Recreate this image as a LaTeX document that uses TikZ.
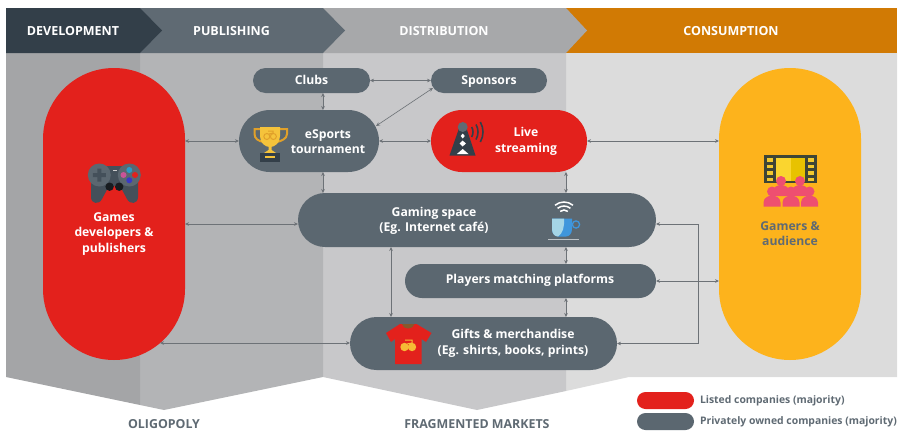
\documentclass[tikz,border=0pt]{standalone}
\usepackage{fontspec}
\setmainfont{Open Sans}
\usetikzlibrary{positioning,arrows.meta,calc}
\definecolor{devdark}{HTML}{333F49}
\definecolor{pubgray}{HTML}{5F6A73}
\definecolor{distgray}{HTML}{A7A8AA}
\definecolor{conorange}{HTML}{D17A04}
\definecolor{colone}{HTML}{A4A5A7}
\definecolor{coltwo}{HTML}{B3B4B6}
\definecolor{colthree}{HTML}{C8C8CA}
\definecolor{colfour}{HTML}{DCDCDC}
\definecolor{pillgray}{HTML}{5B6770}
\definecolor{pillred}{HTML}{E3211C}
\definecolor{pillyellow}{HTML}{FDB31C}
\definecolor{linkgray}{HTML}{6D7277}
\definecolor{gold}{HTML}{F5C33B}
\definecolor{darkgold}{HTML}{E0A02A}
\definecolor{viewerpink}{HTML}{EE4F70}
\definecolor{padbody}{HTML}{44505A}
\definecolor{filmframe}{HTML}{3E4536}
\definecolor{filmhole}{HTML}{F2C92E}
\definecolor{filmlight}{HTML}{FAD52F}
\definecolor{filmshade}{HTML}{E8C200}
\definecolor{cupblue}{HTML}{3F96DC}
\definecolor{cuplight}{HTML}{A5D5E6}
\begin{document}
\begin{tikzpicture}[x=1pt,y=-1pt,>={Stealth[length=4pt,width=3.6pt]},
  inner sep=0pt,outer sep=0pt,
  pill/.style 2 args={rectangle,minimum width=#1,minimum height=#2,rounded corners=#2/2},
  tallpill/.style={rectangle,minimum width=142pt,minimum height=292pt,rounded corners=71pt},
  headtext/.style={font=\bfseries\fontsize{12.5}{12.5}\selectfont,text=white},
  pilltext/.style={font=\bfseries\fontsize{12.2}{15.5}\selectfont,text=white,align=center},
  singleline/.style={text height=10pt,text depth=2.5pt},
  marktext/.style={font=\bfseries\fontsize{12.4}{12.4}\selectfont,text=pubgray},
  keytext/.style={font=\bfseries\fontsize{10.4}{10.4}\selectfont,text=pubgray,anchor=west},
  link/.style={<->,linkgray,line width=0.6pt},
  viewer/.pic={
    \fill[viewerpink] (-8.5,0) -- (-8.5,-4) .. controls (-8.5,-9) and (-3,-11) .. (0,-11)
      .. controls (3,-11) and (8.5,-9) .. (8.5,-4) -- (8.5,0) -- cycle;
    \fill[viewerpink] (0,-15) circle[radius=5];
  }]
\useasboundingbox (0,0) rectangle (904,439);
\fill[colfour] (566,53) -- (897,53) -- (897,377) -- (629,377) -- (566,391) -- cycle;
\fill[colthree] (323,53) -- (566,53) -- (566,391) -- (477,410) -- (323,377) -- cycle;
\fill[coltwo] (140,53) -- (323,53) -- (323,377) -- (164,410) -- (140,405) -- cycle;
\fill[colone] (6,53) -- (140,53) -- (140,405) -- (6,377) -- cycle;
\fill[conorange] (566,8) -- (897,8) -- (897,53) -- (566,53) -- cycle;
\fill[distgray] (323,8) -- (566,8) -- (587,30.5) -- (566,53) -- (323,53) -- cycle;
\fill[pubgray] (140,8) -- (323,8) -- (345,30.5) -- (323,53) -- (140,53) -- cycle;
\fill[devdark] (6,8) -- (140,8) -- (162,30.5) -- (140,53) -- (6,53) -- cycle;
\node[headtext] (development) at (73,31) {DEVELOPMENT};
\node[headtext] (publishing) at (231.5,31) {PUBLISHING};
\node[headtext] (distribution) at (444,31) {DISTRIBUTION};
\node[headtext] (consumption) at (731,31) {CONSUMPTION};
\coordinate (pubdist) at (323,53);
\coordinate (distcon) at (566,53);
\coordinate (gamelevel) at (0,224);
\coordinate (giftlink) at (391,247);
\coordinate (redlow) at (160,343);
\coordinate (bracket) at (698,280);
\coordinate (esportscorner) at (376,126);
\coordinate (sponsorscorner) at (433,88);
\node[tallpill,fill=pillred] (games) at (114,214) {};
\node[tallpill,fill=pillyellow] (gamers) at (790,214) {};
\node[pill={117pt}{25pt},fill=pillgray,pilltext,singleline] (clubs) at (311.5,80.5) {Clubs};
\node[pill={116pt}{25pt},fill=pillgray,pilltext,singleline] (sponsors) at (489,80.5) {Sponsors};
\node[pill={140pt}{62pt},fill=pillgray] (esports) at (309,141) {};
\node[pill={156pt}{62pt},fill=pillred] (live) at (509,141) {};
\node[pill={358pt}{54pt},fill=pillgray] (gaming) at (477,220) {};
\node[pill={251pt}{34pt},fill=pillgray] (players) at (530.5,281) {};
\node[pill={267pt}{53pt},fill=pillgray] (gifts) at (483.5,343.5) {};
\node[pilltext] (gamestext) at (114,234) {Games\\developers \&\\publishers};
\node[pilltext,text=pubgray] (gamerstext) at (790,233.5) {Gamers \&\\audience};
\node[pilltext] (esportstext) at (328,141.5) {eSports\\tournament};
\node[pilltext] (livetext) at (526,141.5) {Live\\streaming};
\node[pilltext] (gamingtext) at (434,221) {Gaming space\\(Eg. Internet café)};
\node[pilltext,singleline] (playerstext) at (530,280) {Players matching platforms};
\node[pilltext] (giftstext) at (513,343.5) {Gifts \& merchandise\\(Eg. shirts, books, prints)};
\draw[link] (clubs.east) -- (sponsors.west);
\draw[link] (clubs.south -| pubdist) -- (esports.north -| pubdist);
\draw[link] (esportscorner) -- (sponsorscorner);
\draw[link] (games.east |- esports.east) -- (esports.west);
\draw[link] (esports.east) -- (live.west);
\draw[link] (live.east) -- (gamers.west |- live.east);
\draw[link] (esports.south -| pubdist) -- (gaming.north -| pubdist);
\draw[link] (live.south -| distcon) -- (gaming.north -| distcon);
\draw[link] (games.east |- gamelevel) -- (gaming.west |- gamelevel);
\draw[link] (gaming.south -| distcon) -- (players.north -| distcon);
\draw[link] (players.south -| distcon) -- (gifts.north -| distcon);
\draw[link] (gaming.south -| giftlink) -- (gifts.north -| giftlink);
\draw[link] (redlow) -- (gifts.west |- redlow);
\draw[link] (gaming.east |- gamelevel) -| (bracket) |- (gifts.east);
\draw[link] (players.east) -- (gamers.west |- players.east);
\fill[padbody] (91,178) -- (91,197) .. controls (91,204) and (99,205) .. (102,199) -- (109,186) -- (120,186) -- (127,199)
  .. controls (130,205) and (138,204) .. (138,197) -- (138,178) -- cycle;
\fill[padbody] (100,166) rectangle (129,184);
\fill[pillgray] (99.3,175) circle[radius=11.5] (129.3,175) circle[radius=11.5];
\fill[padbody] (97.3,168.5) rectangle (101.3,181.5) (92.8,173) rectangle (105.8,177);
\fill[black!65!padbody] (109.6,186.7) circle[radius=4.2] (119.2,186.7) circle[radius=4.2];
\fill[white!80!black] (112.5,169.5) rectangle (116.5,171);
\fill[cyan!80!black] (129.3,170) circle[radius=3];
\fill[magenta!60!gray] (123.5,175) circle[radius=3];
\fill[pillred] (135,175) circle[radius=3];
\fill[blue!55!gray] (129.3,180.3) circle[radius=3];
\draw[darkgold,line width=2pt] (260,129) -- (254.5,129) -- (254.5,134) .. controls (254.5,139) and (259,141) .. (263,142);
\draw[darkgold,line width=2pt] (280,129) -- (287,129) -- (287,134) .. controls (287,139) and (281,141) .. (277,142);
\fill[gold] (260,127) -- (280,127) -- (280,136) .. controls (280,143) and (275,147) .. (270,147)
  .. controls (265,147) and (260,143) .. (260,136) -- cycle;
\fill[gold] (268.5,146) -- (271.5,146) -- (271.5,150) -- (276,153) -- (264,153) -- (268.5,150) -- cycle;
\fill[devdark] (260,153) rectangle (280,161.5);
\fill[gold] (265,156) rectangle (275,158.3);
\draw[darkgold,line width=1pt] (266.8,136.5) circle[radius=3] (273.4,136.5) circle[radius=3]
  (268,131) -- (273,131) -- (273,133) -- (269,134);
\fill[devdark] (459.5,127) -- (466,127) -- (475.5,155.5) -- (449.5,155.5) -- cycle;
\fill[white] (462.7,133.5) -- (464.7,136) -- (462.7,138.5) -- (460.7,136) -- cycle;
\fill[white] (462.7,140.5) -- (465.8,143.5) -- (462.7,146.5) -- (459.6,143.5) -- cycle;
\fill[white] (462.7,149) -- (468.5,154) -- (456.9,154) -- cycle;
\fill[pubgray] (462.7,127) circle[radius=5];
\foreach \waveradius in {10,15,20}
  \draw[devdark,line width=1.6pt] ([shift={(-30:\waveradius)}]463,132) arc[start angle=-30,end angle=30,radius=\waveradius];
\foreach \wifiradius in {6,10,14}
  \draw[white,line width=1.5pt] ([shift={(230:\wifiradius)}]564,216) arc[start angle=230,end angle=310,radius=\wifiradius];
\draw[cupblue,line width=1.3pt] (576,224.5) circle[radius=3.6];
\fill[cupblue] (552,218.5) -- (572,218.5) -- (572,229) .. controls (572,234) and (569,236.5) .. (566,236.5)
  -- (558,236.5) .. controls (555,236.5) and (552,234) .. (552,229) -- cycle;
\fill[cuplight] (552,218.5) -- (564,218.5) .. controls (564.5,227) and (563,233) .. (558,236.5)
  .. controls (555,236.5) and (552,234) .. (552,229) -- cycle;
\draw[white!60!pillgray,line width=1pt] (548,239.5) -- (579,239.5);
\fill[pillred] (400,324) -- (416.5,324) -- (431.5,333) -- (426,342) -- (421.7,339) -- (421.7,364) -- (395,364)
  -- (395,339) -- (391,342) -- (386,333) -- cycle;
\fill[brown!70!black] (402,324) .. controls (403,330) and (413,330) .. (414.5,324) -- cycle;
\fill[gold!90!orange] (404.5,347) circle[radius=4.2] (412,347) circle[radius=4.2];
\draw[gold!90!orange,line width=1pt] (405,340) -- (412,340) -- (412,343) -- (407,344);
\fill[filmframe] (764,155) rectangle (817.3,183);
\fill[filmlight] (775.7,157.5) rectangle (790.5,180.5);
\fill[filmshade] (790.5,157.5) rectangle (805,180.5);
\foreach \framey in {158,164.5,171,177.5} {
  \fill[filmhole] (767,\framey) rectangle (773,\framey+3.6);
  \fill[filmhole] (808,\framey) rectangle (814,\framey+3.6);
}
\pic at (781,196) {viewer};
\pic at (800,196) {viewer};
\pic at (772,206.5) {viewer};
\pic at (791,206.5) {viewer};
\pic at (809.5,206.5) {viewer};
\node[marktext] (oligopoly) at (164,424) {OLIGOPOLY};
\node[marktext] (fragmented) at (477,424) {FRAGMENTED MARKETS};
\node[pill={57pt}{17pt},fill=pillred] (listedkey) at (665.5,400.5) {};
\node[pill={57pt}{17pt},fill=pillgray] (privatekey) at (665.5,421.5) {};
\node[keytext,right=6pt of listedkey] (listedtext) {Listed companies (majority)};
\node[keytext,right=6pt of privatekey] (privatetext) {Privately owned companies (majority)};
\end{tikzpicture}
\end{document}
